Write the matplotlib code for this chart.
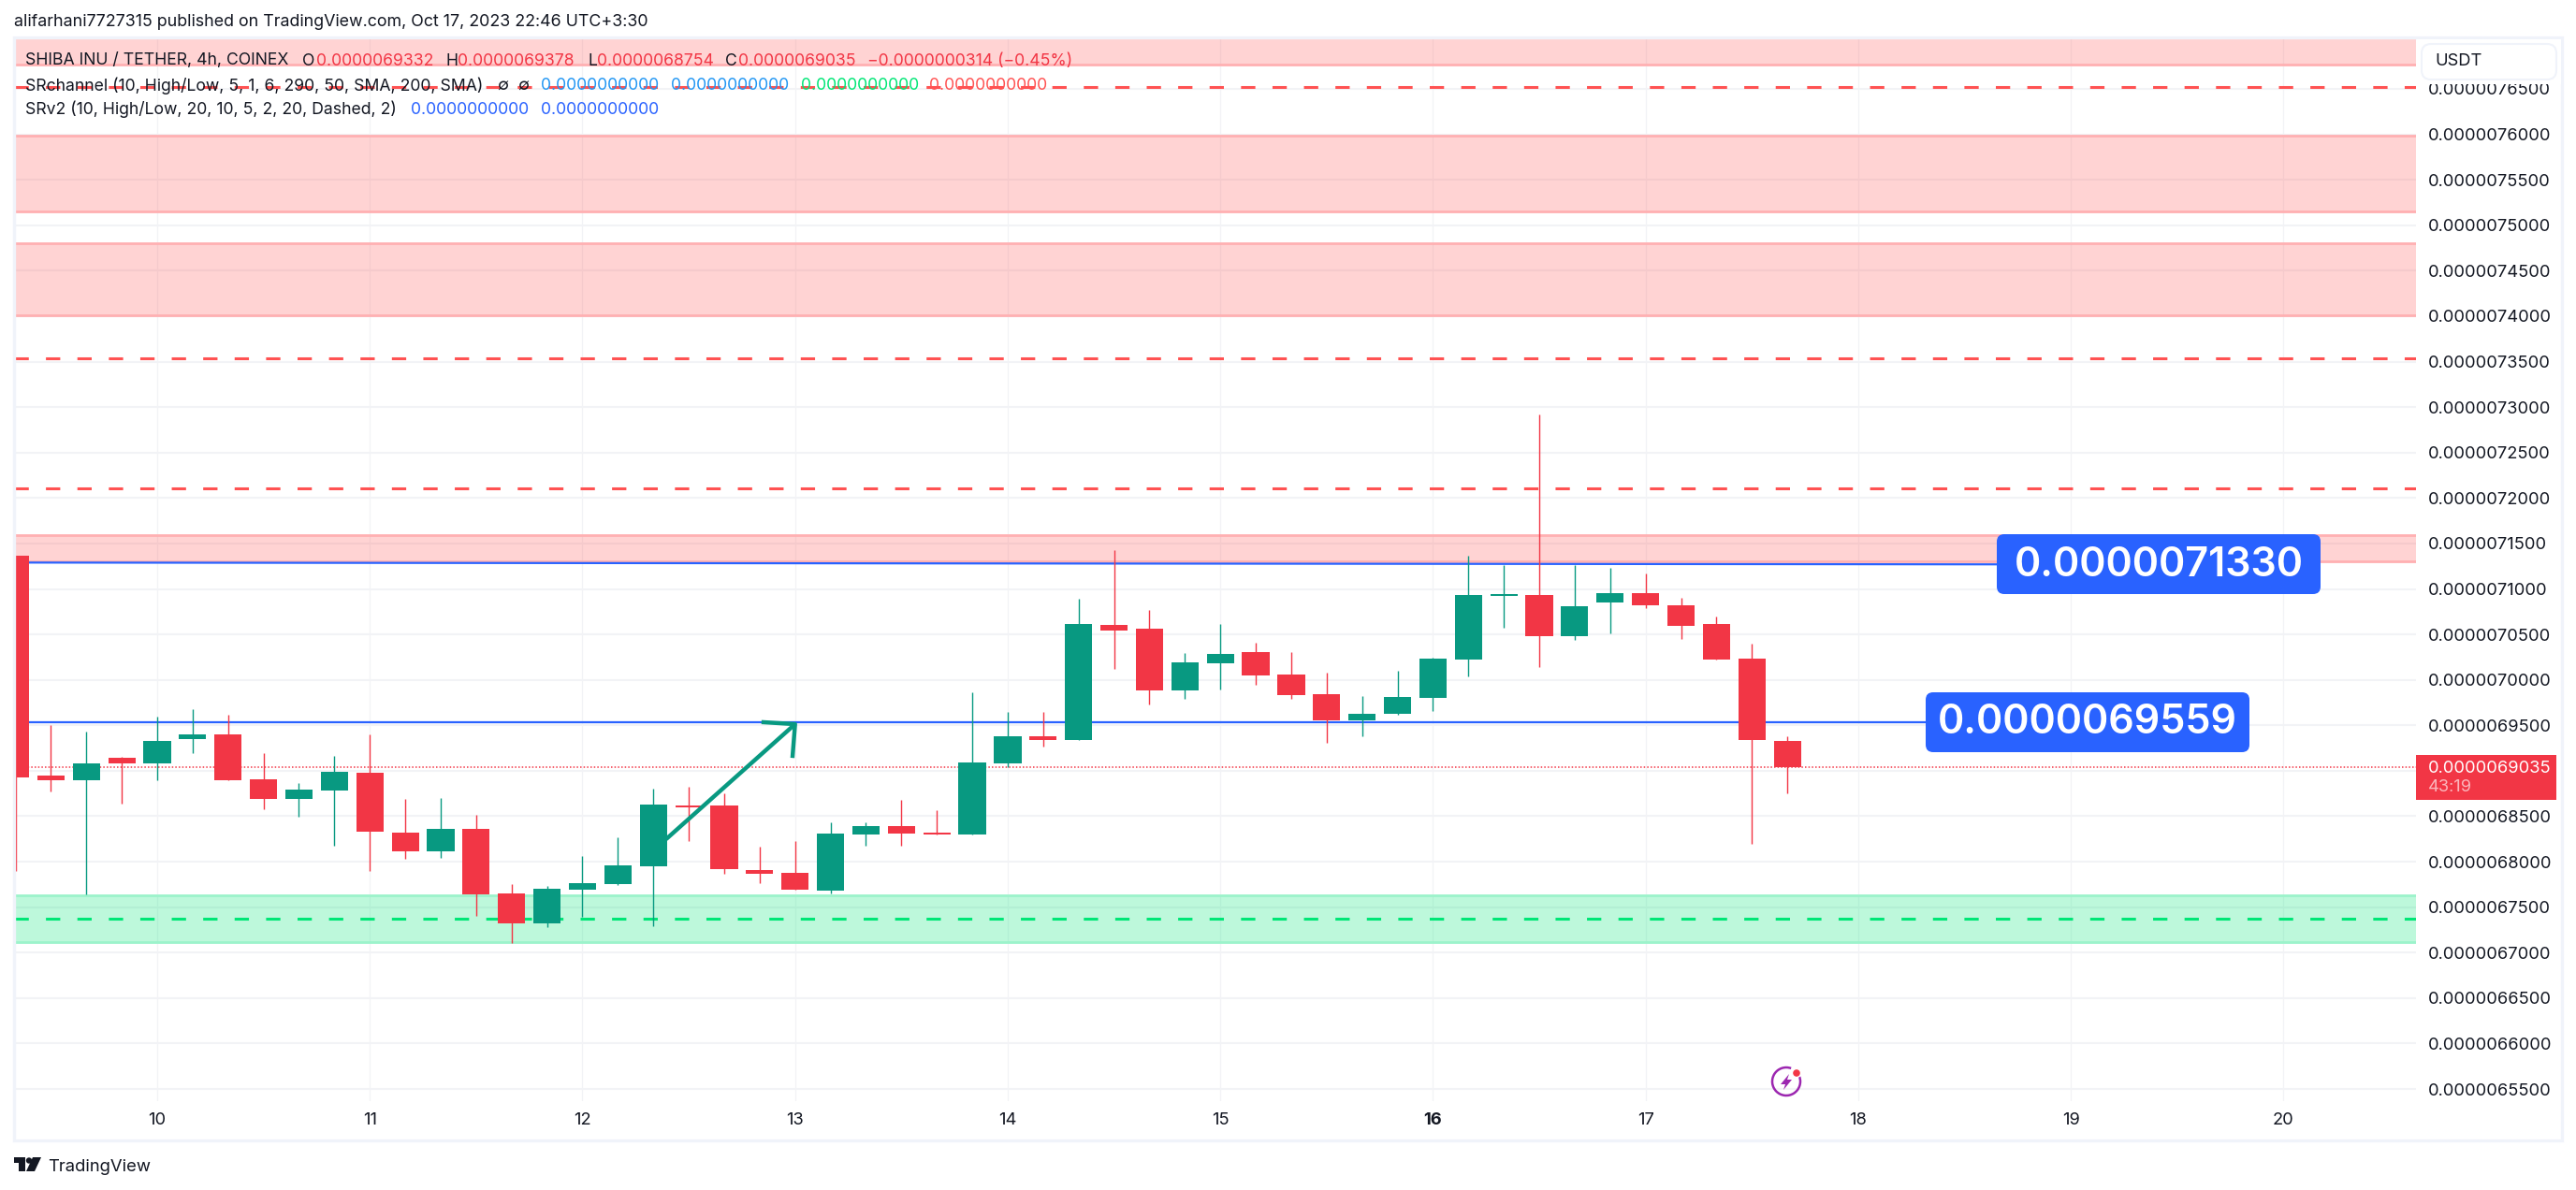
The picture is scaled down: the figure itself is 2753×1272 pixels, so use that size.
import numpy as np
import matplotlib
matplotlib.use("Agg")
import matplotlib.pyplot as plt
from matplotlib.patches import FancyBboxPatch, Rectangle, Circle, Polygon, Arc

plt.rcParams["font.family"] = ["Inter", "DejaVu Sans"]

# prices are in units of 0.0000000001 USDT, one row per 4h candle
first_bar = -4
opens = [71365, 68948, 68897, 69143, 69082, 69349, 69401, 68907, 68691, 68783,
         68979, 68320, 68114, 68362, 67652, 67323, 67693, 67755, 67950, 68619,
         68619, 67909, 67878, 67683, 68300, 68392, 68320, 68300, 69082, 69380,
         69339, 70604, 70563, 69884, 70182, 70306, 70059, 69843, 69555, 69627,
         69802, 70223, 70923, 70933, 70481, 70851, 70954, 70820, 70614, 70234,
         69332]
highs = [71365, 69503, 69431, 69154, 69596, 69678, 69617, 69195, 68866, 69164,
         69401, 68691, 68701, 68516, 67755, 67734, 68063, 68269, 68804, 68825,
         68752, 68166, 68228, 68434, 68433, 68680, 68567, 69863, 69647, 69647,
         70892, 71427, 70769, 70295, 70614, 70409, 70306, 70079, 69822, 70100,
         70244, 71365, 71262, 72919, 71262, 71231, 71170, 70902, 70697, 70398,
         69378]
lows = [67902, 68773, 67641, 68639, 68897, 69195, 68897, 68578, 68495, 68176,
        67902, 68032, 68043, 67405, 67107, 67281, 67395, 67744, 67292, 68228,
        67868, 67765, 67693, 67652, 68176, 68176, 68300, 68300, 69040, 69267,
        69339, 70120, 69730, 69791, 69894, 69946, 69791, 69308, 69380, 69617,
        69658, 70038, 70573, 70141, 70439, 70511, 70789, 70450, 70223, 68197,
        68754]
closes = [68931, 68897, 69082, 69082, 69329, 69401, 68897, 68691, 68794, 68989,
          68331, 68114, 68362, 67641, 67323, 67703, 67765, 67960, 68629, 68598,
          67919, 67868, 67693, 68310, 68392, 68310, 68300, 69092, 69380, 69339,
          70614, 70542, 69884, 70193, 70285, 70048, 69833, 69555, 69627, 69812,
          70234, 70933, 70943, 70481, 70810, 70954, 70820, 70594, 70223, 69339,
          69035]

red_zones = [(76766, 77200), (75151, 75990), (74009, 74801), (71304, 71595)]
green_zones = [(67116, 67634)]
red_dashes = [76520, 73536, 72106]
green_dashes = [67373]

line_top = [71290, 71270]
line_top_bars = [-4, 52.6]
line_low = 69537
line_low_bars = [-4, 51.5]
label_top = "0.0000071330"
label_low = "0.0000069559"

arrow_bars = [14.36, 18.0]
arrow_prices = [68248, 69513]
arrow_wing_bars = [17.11, 18.0, 17.93]
arrow_wing_prices = [69534, 69513, 69164]

last_price = 69035
day_labels = ["10", "11", "12", "13", "14", "15", "16", "17", "18", "19", "20"]
price_ticks = list(range(65500, 77000, 500))

UP = "#089981"
DOWN = "#F23645"
BLUE = "#2962FF"
DARK = "#131722"
GRID = "#F2F3F6"
W, H = 2753, 1272

fig = plt.figure(figsize=(W / 100, H / 100), dpi=100, facecolor="white")
ax = fig.add_axes([15 / W, 1 - 1177 / H, (2582 - 15) / W, (1177 - 41) / H])
ax.set_xlim(-4.04, 63.74)
ax.set_ylim(65367, 77055)
for s in ax.spines.values():
    s.set_visible(False)

# grid
for p in price_ticks:
    ax.axhline(p, color=GRID, lw=1.5, zorder=1)
for i in range(len(day_labels)):
    ax.axvline(i * 6, color=GRID, lw=0.9, zorder=1)

# zones and levels
for lo, hi in red_zones:
    ax.axhspan(lo, hi, facecolor="#FF5252", alpha=0.25, lw=0, zorder=2)
    ax.axhline(lo, color="#FFB0B2", lw=2, zorder=2)
    ax.axhline(hi, color="#FFB0B2", lw=2, zorder=2)
for lo, hi in green_zones:
    ax.axhspan(lo, hi, facecolor="#00E676", alpha=0.26, lw=0, zorder=2)
    ax.axhline(lo, color="#9CF3CB", lw=2, zorder=2)
    ax.axhline(hi, color="#9CF3CB", lw=2, zorder=2)
for p in red_dashes:
    ax.axhline(p, color="#FF5252", lw=2.2, ls=(0, (5, 6)), zorder=3)
for p in green_dashes:
    ax.axhline(p, color="#00E676", lw=2.2, ls=(0, (5, 6)), zorder=3)

# hand drawn levels and arrow
ax.plot(line_top_bars, line_top, color=BLUE, lw=1.6, zorder=3)
ax.plot(line_low_bars, [line_low, line_low], color=BLUE, lw=1.6, zorder=3)
ax.axhline(last_price, color=DOWN, lw=1.1, ls=(0, (1, 1.4)), zorder=3)

# candles
bars = np.arange(len(opens)) + first_bar
for x, o, h, l, c in zip(bars, opens, highs, lows, closes):
    col = UP if c >= o else DOWN
    ax.plot([x, x], [l, h], color=col, lw=1.0, zorder=4, solid_capstyle="butt")
    ax.bar(x, abs(c - o), bottom=min(o, c), width=0.77, color=col, lw=0, zorder=5)

ax.plot(arrow_bars, arrow_prices, color=UP, lw=3.2, zorder=6, solid_capstyle="butt")
ax.plot(arrow_wing_bars, arrow_wing_prices, color=UP, lw=3.2, zorder=6)

ax.set_xticks([i * 6 for i in range(len(day_labels))])
ax.set_xticklabels(day_labels, fontsize=13.2, color=DARK)
ax.get_xticklabels()[6].set_fontweight("bold")
ax.yaxis.tick_right()
ax.set_yticks(price_ticks)
ax.set_yticklabels([f"{p * 1e-10:.10f}" for p in price_ticks], fontsize=13.2, color=DARK)
ax.tick_params(axis="both", length=0)
ax.tick_params(axis="y", pad=9.4)
ax.tick_params(axis="x", pad=9)

# page furniture in pixel coordinates
ov = fig.add_axes([0, 0, 1, 1], zorder=10)
ov.set_xlim(0, W)
ov.set_ylim(H, 0)
ov.axis("off")
ov.patch.set_alpha(0)

ov.add_patch(Rectangle((15, 40), 2723, 1179, fill=False, ec="#F0F3FA", lw=2.4))
ov.add_patch(Rectangle((2583, 42), 154, 48, fc="white", ec="none"))
ov.add_patch(FancyBboxPatch((2593, 52), 134, 28, boxstyle="round,pad=5,rounding_size=10",
                            fc="white", ec="#F0F3FA", lw=1.5))
ov.text(2602, 66, "USDT", fontsize=13.2, color=DARK, va="center")


def blue_box(x0, x1, y0, y1, label):
    ov.add_patch(FancyBboxPatch((x0 + 8, y0 + 8), x1 - x0 - 16, y1 - y0 - 16,
                                boxstyle="round,pad=8,rounding_size=8", fc=BLUE, ec="none"))
    ov.text((x0 + x1) / 2, (y0 + y1) / 2 + 1, label, color="white", fontsize=31,
            fontweight="semibold", ha="center", va="center")


blue_box(2134, 2480, 571, 635, label_top)
blue_box(2058, 2404, 740, 804, label_low)

# last price tag
ov.add_patch(Rectangle((2582, 807), 150, 48, fc=DOWN, ec="none"))
ov.text(2595, 821, f"{last_price * 1e-10:.10f}", color="white", fontsize=13.2, va="center")
ov.text(2595, 842, "43:19", color="#FBB6BC", fontsize=13.2, va="center")

# header and legend
ov.text(15, 24, "alifarhani7727315 published on TradingView.com, Oct 17, 2023 22:46 UTC+3:30",
        fontsize=12.85, color=DARK, va="center")
legend_rows = [
    (65, [(27, "SHIBA INU / TETHER, 4h, COINEX", DARK), (323, "O", DARK), (338, "0.0000069332", DOWN),
          (477, "H", DARK), (489, "0.0000069378", DOWN), (628, "L", DARK), (638, "0.0000068754", DOWN),
          (775, "C", DARK), (789, "0.0000069035", DOWN), (927, "\u22120.0000000314 (\u22120.45%)", DOWN)]),
    (92, [(27, "SRchannel (10, High/Low, 5, 1, 6, 290, 50, SMA, 200, SMA)", DARK),
          (531, "\u2205", DARK), (553, "\u2205", DARK),
          (578, "0.0000000000", "#2196F3"), (717, "0.0000000000", "#2196F3"),
          (856, "0.0000000000", "#00E676"), (993, "0.0000000000", "#FF5252")]),
    (117, [(27, "SRv2 (10, High/Low, 20, 10, 5, 2, 20, Dashed, 2)", DARK),
           (439, "0.0000000000", BLUE), (578, "0.0000000000", BLUE)]),
]
for y, items in legend_rows:
    for x, txt, col in items:
        ov.text(x, y, txt, fontsize=12.7, color=col, va="center")

# lightning icon
ov.add_patch(Arc((1909, 1156), 30, 30, theta1=-20, theta2=290, ec="#9C27B0", lw=1.8))
ov.add_patch(Polygon([(1912, 1148), (1903, 1159), (1908, 1159), (1906, 1165), (1915, 1154), (1910, 1154)],
                     fc="#9C27B0", ec="none"))
ov.add_patch(Circle((1920, 1147), 4.5, fc=DOWN, ec="white", lw=1))

# TradingView logo
ov.add_patch(Polygon([(15, 1237), (27, 1237), (27, 1252), (20, 1252), (20, 1243), (15, 1243)], fc=DARK, ec="none"))
ov.add_patch(Circle((31, 1240.5), 3.2, fc=DARK, ec="none"))
ov.add_patch(Polygon([(35, 1237), (44, 1237), (37, 1252), (28, 1252)], fc=DARK, ec="none"))
ov.text(51, 1247, "TradingView", fontsize=13.3, color=DARK, va="center")

fig.savefig("out.png", dpi=100)
